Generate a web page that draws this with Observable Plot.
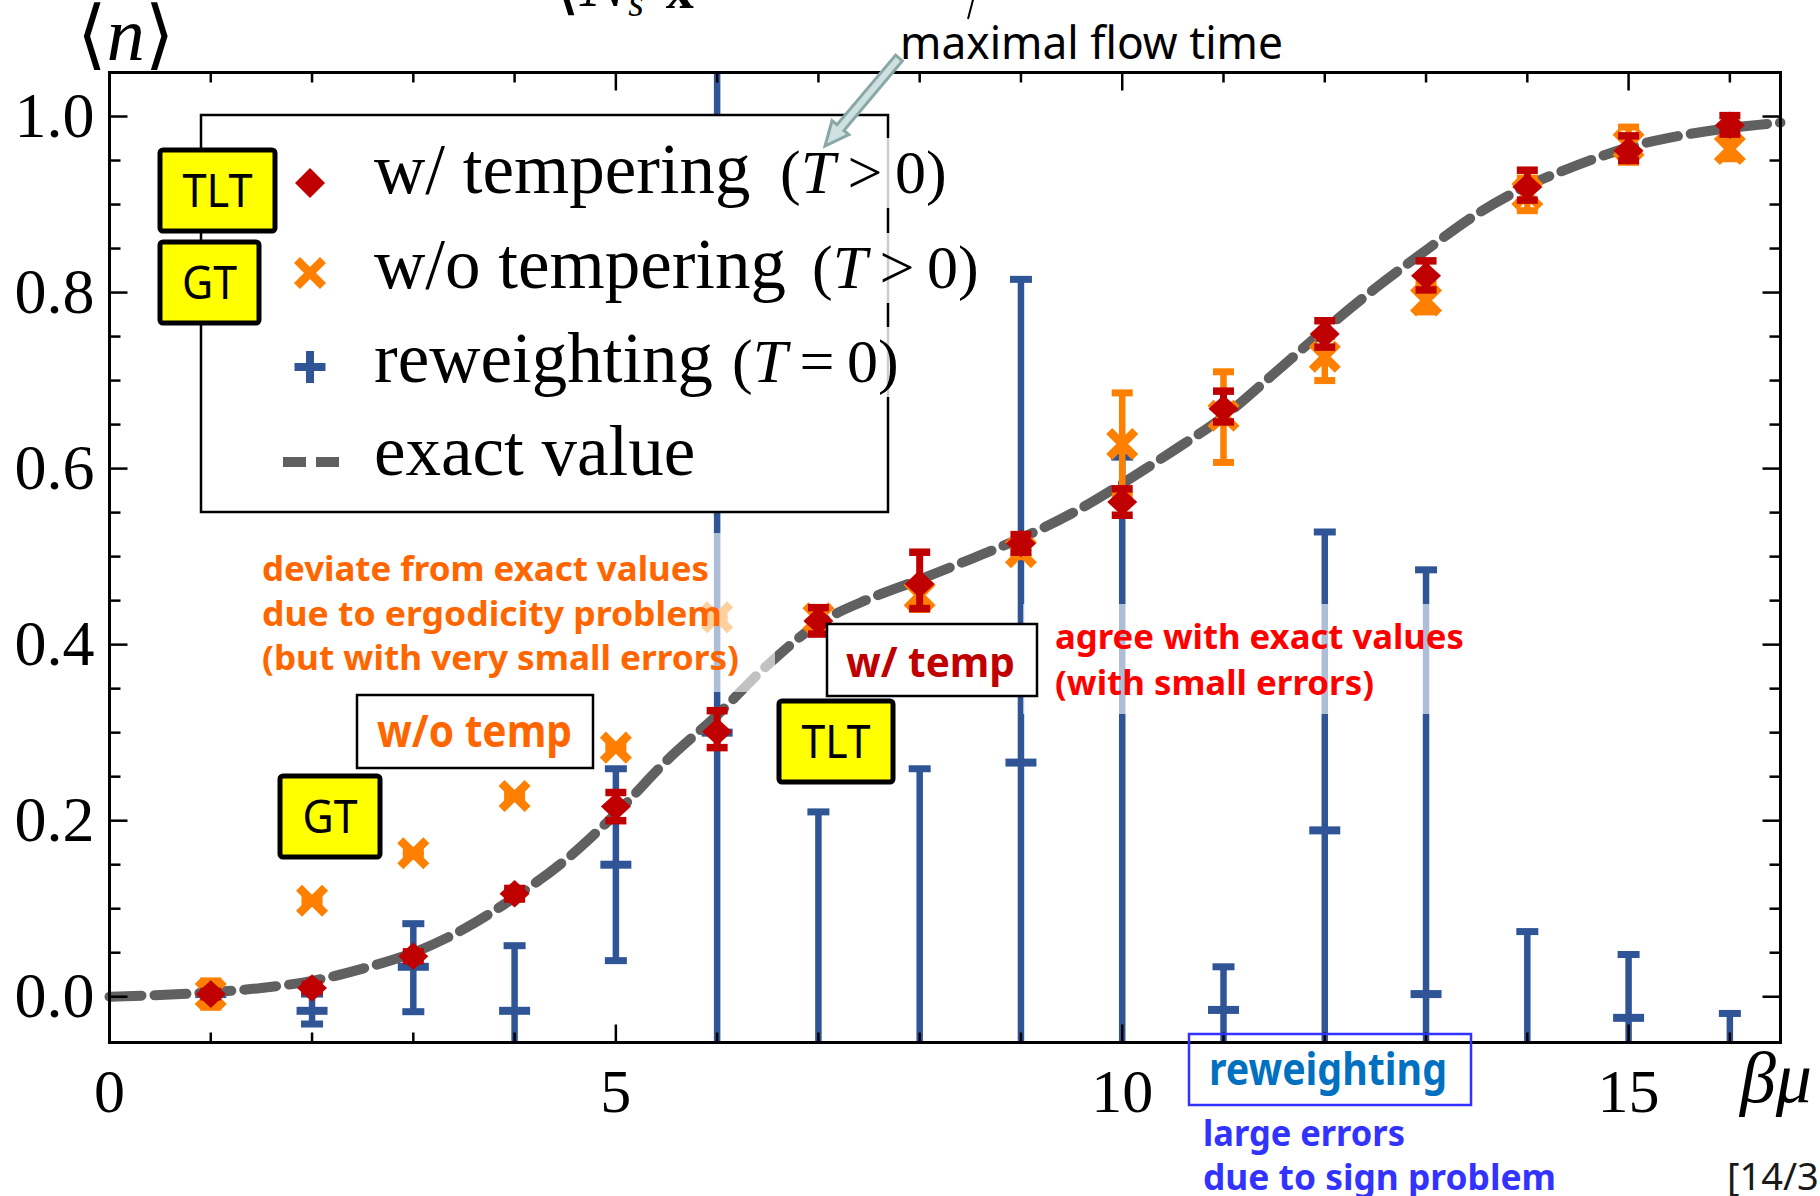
<!DOCTYPE html>
<html><head><meta charset="utf-8">
<script src="https://cdn.jsdelivr.net/npm/d3@7"></script>
<script src="https://cdn.jsdelivr.net/npm/@observablehq/plot@0.6"></script>
<style>
html,body{margin:0;padding:0;background:#fff;}
#wrap{position:relative;width:1820px;height:1196px;overflow:hidden;background:#fff;}
#wrap svg{position:absolute;left:0;top:0;}
</style></head><body><div id="wrap"></div>
<script>
// ---------------- data ----------------
const betaMu = [1,2,3,4,5,6,7,8,9,10,11,12,13,14,15,16];

// w/ tempering (T > 0)  -- TLT
const wTempMean = [0.003,0.010,0.046,0.117,0.216,0.301,0.427,0.469,0.515,0.562,0.668,0.753,0.819,0.920,0.961,0.990];
const wTempLo   = [0.000,0.006,0.041,0.111,0.200,0.283,0.412,0.441,0.505,0.547,0.653,0.738,0.803,0.905,0.950,0.980];
const wTempHi   = [0.006,0.014,0.051,0.123,0.232,0.325,0.442,0.505,0.525,0.577,0.688,0.768,0.836,0.939,0.978,1.001];

// w/o tempering (T > 0) -- GT
const woTempMean = [0.003,0.109,0.163,0.228,0.283,0.431,0.430,0.456,0.505,0.628,0.660,0.727,0.791,0.912,0.968,0.963];
const woTempLo   = [-0.012,0.106,0.160,0.225,0.280,0.428,0.418,0.440,0.500,0.570,0.607,0.700,0.778,0.893,0.948,0.952];
const woTempHi   = [0.018,0.112,0.166,0.231,0.286,0.434,0.442,0.470,0.510,0.686,0.710,0.750,0.810,0.930,0.988,0.976];

// reweighting (T = 0)
const rewMean = [0.003,-0.016,0.034,-0.016,0.150,0.300,-0.300,-0.250,0.266,-0.120,-0.015,0.189,0.003,-0.100,-0.024,-0.080];
const rewLo   = [-0.008,-0.031,-0.017,-0.090,0.041,-0.500,-0.810,-0.760,-0.283,-0.853,-0.064,-0.150,-0.479,-0.274,-0.097,-0.142];
const rewHi   = [0.012,0.003,0.083,0.058,0.259,1.100,0.210,0.259,0.815,0.613,0.034,0.528,0.485,0.074,0.048,-0.019];

// exact value (dashed curve)
const exactX = [0,0.5,1,1.5,2,2.5,3,3.5,4,4.5,5,5.5,6,6.5,7,7.5,8,8.5,9,9.5,10,10.5,11,11.5,12,12.5,13,13.5,14,14.5,15,15.5,16,16.5];
const exactY = [0.000,0.002,0.005,0.010,0.018,0.032,0.050,0.077,0.113,0.155,0.208,0.268,0.320,0.377,0.424,0.452,0.474,0.497,0.521,0.549,0.583,0.620,0.659,0.708,0.758,0.805,0.848,0.889,0.921,0.945,0.965,0.978,0.987,0.993];

// axes
const xTickLabels = [0,5,10,15];
const xMinorTicks = [1,2,3,4,6,7,8,9,11,12,13,14,16];
const yTickLabels = [0,0.2,0.4,0.6,0.8,1.0];
const yMinorTicks = [0.05,0.1,0.15,0.25,0.3,0.35,0.45,0.5,0.55,0.65,0.7,0.75,0.85,0.9,0.95];

// ---------------- colours ----------------
const RED = "#c00000", ORANGE = "#ff8000", BLUE = "#2f5597", GRAY = "#606060";

// ---------------- tables ----------------
const mk = (m, lo, hi) => betaMu.map((x, i) => ({x, y: m[i], lo: lo[i], hi: hi[i]}));
const wTemp = mk(wTempMean, wTempLo, wTempHi);
const woTemp = mk(woTempMean, woTempLo, woTempHi);
const rew = mk(rewMean, rewLo, rewHi);
const exact = exactX.map((x, i) => ({x, y: exactY[i]}));

// custom symbols (r = half size)
const sym = (fn) => ({draw(c, size) { const r = Math.sqrt(size / Math.PI); fn(c, r); }});
const hbar = sym((c, r) => { c.moveTo(-r, 0); c.lineTo(r, 0); });
const tUp = sym((c, r) => { c.moveTo(0, 0); c.lineTo(0, -r); });
const tDown = sym((c, r) => { c.moveTo(0, 0); c.lineTo(0, r); });
const tRight = sym((c, r) => { c.moveTo(0, 0); c.lineTo(r, 0); });
const tLeft = sym((c, r) => { c.moveTo(0, 0); c.lineTo(-r, 0); });
const diamond = sym((c, r) => { c.moveTo(0, -r * 0.92); c.lineTo(r, 0); c.lineTo(0, r * 0.92); c.lineTo(-r, 0); c.closePath(); });
const xmark = sym((c, r) => { c.moveTo(-r, -r); c.lineTo(r, r); c.moveTo(-r, r); c.lineTo(r, -r); });

function errMarks(data, color, ruleW, capR, capW) {
  return [
    Plot.ruleX(data, {x: "x", y1: "lo", y2: "hi", stroke: color, strokeWidth: ruleW, clip: true}),
    Plot.dot(data, {x: "x", y: "lo", symbol: hbar, r: capR, stroke: color, strokeWidth: capW, fill: "none", clip: true}),
    Plot.dot(data, {x: "x", y: "hi", symbol: hbar, r: capR, stroke: color, strokeWidth: capW, fill: "none", clip: true})
  ];
}

const serif = "'Liberation Serif', 'DejaVu Serif', serif";

const chart = Plot.plot({
  width: 1820, height: 1196,
  marginLeft: 109, marginRight: 40, marginTop: 72, marginBottom: 154,
  x: {domain: [0, 16.5], axis: null},
  y: {domain: [-0.052, 1.05], axis: null},
  style: {background: "transparent", fontFamily: serif, overflow: "visible"},
  marks: [
    // reweighting
    ...errMarks(rew, BLUE, 6.5, 11, 7),
    Plot.dot(rew, {x: "x", y: "y", symbol: hbar, r: 15.5, stroke: BLUE, strokeWidth: 8, fill: "none", clip: true}),
    // exact value
    Plot.line(exact, {x: "x", y: "y", curve: "monotone-x", stroke: GRAY, strokeWidth: 10, strokeDasharray: "32,13"}),
    // w/o tempering
    ...errMarks(woTemp, ORANGE, 6.5, 10.5, 7),
    Plot.dot(woTemp, {x: "x", y: "y", symbol: xmark, r: 13, stroke: ORANGE, strokeWidth: 8.5, fill: "none", clip: true}),
    // w/ tempering
    ...errMarks(wTemp, RED, 7, 10.5, 7.5),
    Plot.dot(wTemp, {x: "x", y: "y", symbol: diamond, r: 15, fill: RED, stroke: "none", clip: true}),
    // frame & ticks (inward)
    Plot.frame({stroke: "#000", strokeWidth: 3}),
    Plot.dot(xMinorTicks, {x: d => d, frameAnchor: "bottom", symbol: tUp, r: 10, stroke: "#000", strokeWidth: 2.5, fill: "none"}),
    Plot.dot(xTickLabels, {x: d => d, frameAnchor: "bottom", symbol: tUp, r: 18, stroke: "#000", strokeWidth: 2.5, fill: "none"}),
    Plot.dot(xMinorTicks, {x: d => d, frameAnchor: "top", symbol: tDown, r: 10, stroke: "#000", strokeWidth: 2.5, fill: "none"}),
    Plot.dot(xTickLabels, {x: d => d, frameAnchor: "top", symbol: tDown, r: 18, stroke: "#000", strokeWidth: 2.5, fill: "none"}),
    Plot.dot(yMinorTicks, {y: d => d, frameAnchor: "left", symbol: tRight, r: 11, stroke: "#000", strokeWidth: 2.5, fill: "none"}),
    Plot.dot(yTickLabels, {y: d => d, frameAnchor: "left", symbol: tRight, r: 18, stroke: "#000", strokeWidth: 2.5, fill: "none"}),
    Plot.dot(yMinorTicks, {y: d => d, frameAnchor: "right", symbol: tLeft, r: 11, stroke: "#000", strokeWidth: 2.5, fill: "none"}),
    Plot.dot(yTickLabels, {y: d => d, frameAnchor: "right", symbol: tLeft, r: 18, stroke: "#000", strokeWidth: 2.5, fill: "none"}),
    // tick labels
    Plot.text(xTickLabels, {x: d => d, text: d => String(d), frameAnchor: "bottom", dy: 50, lineAnchor: "middle", fontSize: 62, fontFamily: serif, fill: "#000"}),
    Plot.text(yTickLabels, {y: d => d, text: d => d.toFixed(1), frameAnchor: "left", dx: -15, textAnchor: "end", lineAnchor: "middle", fontSize: 64, fontFamily: serif, fill: "#000"})
  ]
});
document.getElementById("wrap").appendChild(chart);

// ---------------- annotation overlay ----------------
const sans = "'Noto Sans', 'Open Sans', sans-serif";
function yellowBox(x0, y0, x1, y1, label, tw) {
  const cx = (x0 + x1) / 2, cy = (y0 + y1) / 2;
  return `<rect x="${x0}" y="${y0}" width="${x1 - x0}" height="${y1 - y0}" rx="3" fill="#ffff00" stroke="#000" stroke-width="5"/>
  <text x="${cx}" y="${cy + 16}" text-anchor="middle" font-family="${sans}" font-size="45" textLength="${tw}" lengthAdjust="spacingAndGlyphs" fill="#000">${label}</text>`;
}
function sText(x, y, s, size, w, color, weight) {
  return `<text x="${x}" y="${y}" font-family="${sans}" font-size="${size}" font-weight="${weight}" fill="${color}" textLength="${w}" lengthAdjust="spacingAndGlyphs">${s}</text>`;
}
// arrow geometry
const tail = [899, 58], tip = [825, 146];
const dx = tip[0] - tail[0], dy = tip[1] - tail[1], L = Math.hypot(dx, dy);
const ux = dx / L, uy = dy / L, nx = -uy, ny = ux;
const hb = [tip[0] - ux * 24, tip[1] - uy * 24];
const P = (p, k) => `${(p[0] + nx * k).toFixed(1)},${(p[1] + ny * k).toFixed(1)}`;
const arrowPts = [P(tail, 4.5), P(hb, 4.5), P(hb, 11), `${tip[0]},${tip[1]}`, P(hb, -11), P(hb, -4.5), P(tail, -4.5)].join(" ");

const legendRows = [
  {y: 193, main: "w/ tempering", px: 780, rel: "&gt;"},
  {y: 288, main: "w/o tempering", px: 812, rel: "&gt;"},
  {y: 382, main: "reweighting", px: 732, rel: "="},
  {y: 475, main: "exact value", px: null}
];

let ov = `<svg xmlns="http://www.w3.org/2000/svg" width="1820" height="1196" style="pointer-events:none">
  <!-- partially visible formula at the top (cut off by the page edge, as in the original slide) -->
  <text x="552" y="6" font-family="${serif}" font-size="72" fill="#000">\u27E8<tspan font-style="italic">N</tspan><tspan font-size="40" font-style="italic" dy="10">s</tspan><tspan font-size="56" font-weight="bold" dx="22" dy="-8">x</tspan></text>
  <line x1="974" y1="-4" x2="968" y2="19" stroke="#000" stroke-width="2"/>
  <!-- y label -->
  <text x="77" y="60" font-family="${serif}" font-size="76" fill="#000">\u27E8<tspan font-style="italic">n</tspan>\u27E9</text>
  <!-- maximal flow time -->
  ${sText(900, 59, "maximal flow time", 46, 383, "#000", 400)}
  <!-- legend box -->
  <rect x="201" y="115" width="687" height="397" fill="#fff" stroke="#000" stroke-width="2.5"/>
  <rect x="876" y="138" width="110" height="70" fill="#fff" fill-opacity="0.8"/>
  <rect x="876" y="233" width="110" height="70" fill="#fff" fill-opacity="0.8"/>
  <rect x="876" y="327" width="30" height="70" fill="#fff" fill-opacity="0.8"/>
  <!-- legend markers -->
  <path d="M310,168 L325,183 L310,198 L295,183 Z" fill="${RED}"/>
  <path d="M297,260 L323,286 M297,286 L323,260" stroke="${ORANGE}" stroke-width="8.5" fill="none"/>
  <path d="M294.5,367 L325.5,367 M310,351 L310,383" stroke="${BLUE}" stroke-width="8" fill="none"/>
  <rect x="283" y="457" width="23" height="10" fill="${GRAY}"/>
  <rect x="316" y="457" width="23" height="10" fill="${GRAY}"/>
  ${legendRows.map(r => `<text x="374" y="${r.y}" font-family="${serif}" font-size="71" fill="#000">${r.main}</text>` +
     (r.px ? `<text x="${r.px}" y="${r.y}" font-family="${serif}" font-size="62" fill="#000">(<tspan font-style="italic">T</tspan>\u2009${r.rel}\u20090)</text>` : "")).join("\n  ")}
  <!-- arrow to maximal flow time -->
  <polygon points="${arrowPts}" fill="#cfe0e0" stroke="#8aa7a8" stroke-width="3" stroke-linejoin="miter"/>
  <!-- yellow method tags -->
  ${yellowBox(160, 150, 275, 231, "TLT", 70)}
  ${yellowBox(160, 242, 259, 323, "GT", 55)}
  ${yellowBox(280, 776, 380, 857, "GT", 55)}
  ${yellowBox(779, 701, 893, 782, "TLT", 69)}
  <!-- faded backgrounds behind notes -->
  <rect x="255" y="533" width="520" height="159" fill="#fff" fill-opacity="0.62"/>
  <rect x="1023" y="604" width="447" height="110" fill="#fff" fill-opacity="0.62"/>
  <!-- orange note -->
  ${sText(262, 581, "deviate from exact values", 34, 447, "#ff6600", 700)}
  ${sText(262, 626, "due to ergodicity problem", 34, 460, "#ff6600", 700)}
  ${sText(262, 670, "(but with very small errors)", 34, 477, "#ff6600", 700)}
  <!-- w/o temp box -->
  <rect x="357" y="695" width="236" height="73" fill="#fff" stroke="#000" stroke-width="2.5"/>
  ${sText(377, 747, "w/o temp", 44, 195, "#ff6600", 700)}
  <!-- w/ temp box -->
  <rect x="827" y="624" width="210" height="72" fill="#fff" stroke="#000" stroke-width="2.5"/>
  ${sText(846, 677, "w/ temp", 42, 169, "#c00000", 700)}
  <!-- red note -->
  ${sText(1055, 649, "agree with exact values", 34, 409, "#ff0000", 700)}
  ${sText(1055, 695, "(with small errors)", 34, 319, "#ff0000", 700)}
  <!-- reweighting box -->
  <rect x="1189" y="1034" width="282" height="71" fill="none" stroke="#3333ff" stroke-width="2.5"/>
  ${sText(1209, 1085, "reweighting", 44, 238, "#0070c0", 700)}
  ${sText(1203, 1146, "large errors", 36, 202, "#3333ff", 700)}
  ${sText(1203, 1190, "due to sign problem", 36, 353, "#3333ff", 700)}
  <!-- x label -->
  <text x="1740" y="1102" font-family="${serif}" font-size="72" font-style="italic" fill="#000">\u03B2\u03BC</text>
  <!-- page number -->
  <text x="1727" y="1190" font-family="${sans}" font-size="38" fill="#1a1a1a">[14/3</text>
</svg>`;
document.getElementById("wrap").insertAdjacentHTML("beforeend", ov);
</script></body></html>
